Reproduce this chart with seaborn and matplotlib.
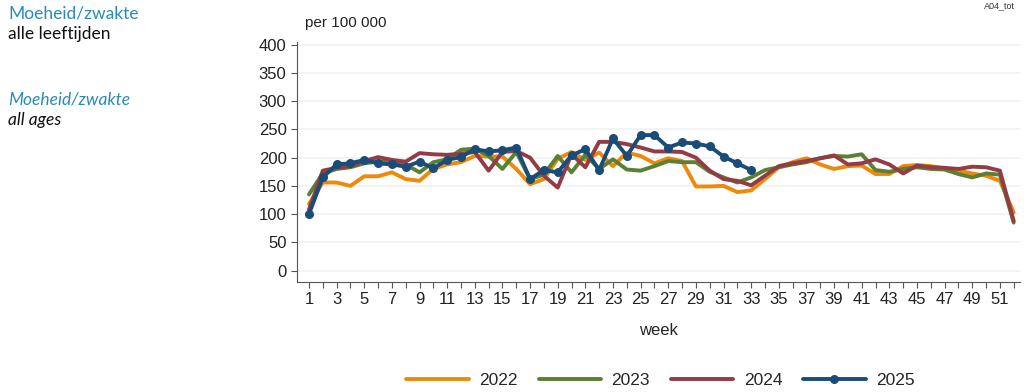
import matplotlib
matplotlib.use("Agg")
import matplotlib.pyplot as plt
from matplotlib.lines import Line2D
import seaborn as sns
import pandas as pd

# weekly rate per 100 000
weeks = list(range(1, 53))
y2022 = [118, 156, 156, 150, 167, 167, 174, 162, 159, 180, 188, 192, 203, 202, 202, 180,
         153, 162, 198, 210, 196, 209, 185, 209, 203, 190, 199, 194, 149, 149, 150, 139,
         142, 162, 183, 192, 199, 188, 180, 185, 186, 171, 171, 185, 187, 185, 181, 177,
         172, 168, 159, 103]
y2023 = [135, 172, 180, 183, 190, 193, 192, 188, 174, 192, 197, 214, 216, 203, 180, 210,
         162, 170, 203, 174, 205, 180, 197, 179, 177, 185, 194, 192, 192, 175, 165, 156,
         165, 178, 183, 188, 192, 199, 203, 202, 206, 178, 175, 180, 183, 180, 179, 171,
         165, 172, 170, 85]
y2024 = [108, 177, 182, 185, 194, 201, 196, 193, 208, 206, 205, 207, 210, 177, 210, 212,
         200, 168, 147, 206, 183, 228, 228, 224, 218, 211, 211, 210, 200, 177, 162, 159,
         151, 168, 185, 190, 194, 199, 204, 188, 190, 197, 188, 172, 186, 183, 182, 180,
         184, 183, 177, 88]
y2025 = [100, 165, 188, 190, 196, 190, 188, 184, 193, 181, 196, 201, 215, 211, 213, 218,
         162, 178, 174, 204, 215, 178, 234, 203, 240, 240, 218, 227, 225, 220, 202, 190,
         178]

years = ["2022", "2023", "2024", "2025"]
colors = ["#EC8A0C", "#5B7F33", "#943B45", "#1A4C78"]

df = pd.concat([
    pd.DataFrame({"week": weeks[:len(v)], "rate": v, "year": yr})
    for yr, v in zip(years, [y2022, y2023, y2024, y2025])
])

sns.set_style("white")
plt.rcParams["font.family"] = ["Liberation Sans", "DejaVu Sans"]

fig = plt.figure(figsize=(10.24, 3.92), dpi=100)
ax = fig.add_axes([0.29, 0.281, 0.706, 0.612])

for yr, c in zip(years, colors):
    sub = df[df["year"] == yr]
    sns.lineplot(data=sub, x="week", y="rate", ax=ax, color=c, linewidth=2.8,
                 marker="o" if yr == "2025" else None, markersize=6.5,
                 markeredgewidth=0, legend=False, zorder=3)

ax.set_xlim(0.13, 52.45)
ax.set_ylim(-20, 405)
ax.set_yticks(range(0, 401, 50))
ax.set_xticks(weeks)
ax.set_xticklabels([str(w) if w % 2 == 1 else "" for w in weeks])
ax.yaxis.grid(True, color="#EDF2F6", linewidth=1.2)
ax.set_axisbelow(True)
for s in ["top", "right"]:
    ax.spines[s].set_visible(False)
ax.spines["left"].set_color("#555555")
ax.spines["bottom"].set_color("#555555")
ax.tick_params(axis="both", labelsize=12, colors="#222222", length=4, width=0.8,
               direction="out", left=True, bottom=True, color="#555555")
ax.tick_params(axis="x", pad=3)
ax.set_xlabel("week", fontsize=12, labelpad=12)
ax.set_ylabel("")
ax.text(0.011, 1.05, "per 100 000", transform=ax.transAxes, fontsize=11, ha="left",
        va="bottom", color="#222222")

# titles at left
title_font = ["Lato", "DejaVu Sans"]
fig.text(0.008, 0.965, "Moeheid/zwakte", color="#2A8AB8", fontsize=12.5, family=title_font,
         va="center")
fig.text(0.008, 0.912, "alle leeftijden", color="#111111", fontsize=12.5, family=title_font,
         va="center")
fig.text(0.008, 0.745, "Moeheid/zwakte", color="#2A8AB8", fontsize=12.5, family=title_font,
         style="italic", va="center")
fig.text(0.008, 0.694, "all ages", color="#111111", fontsize=12.5, family=title_font,
         style="italic", va="center")
fig.text(0.991, 0.985, "A04_tot", fontsize=6.5, color="#333333", ha="right", va="center")

handles = [Line2D([0], [0], color=c, linewidth=2.8,
                  marker="o" if yr == "2025" else None, markersize=6.5, markeredgewidth=0)
           for yr, c in zip(years, colors)]
fig.legend(handles, years, loc="center", bbox_to_anchor=(0.645, 0.03), ncol=4,
           frameon=False, fontsize=12.5, handlelength=3.6, columnspacing=1.2,
           handletextpad=0.6)

fig.savefig("out.png", dpi=100)
